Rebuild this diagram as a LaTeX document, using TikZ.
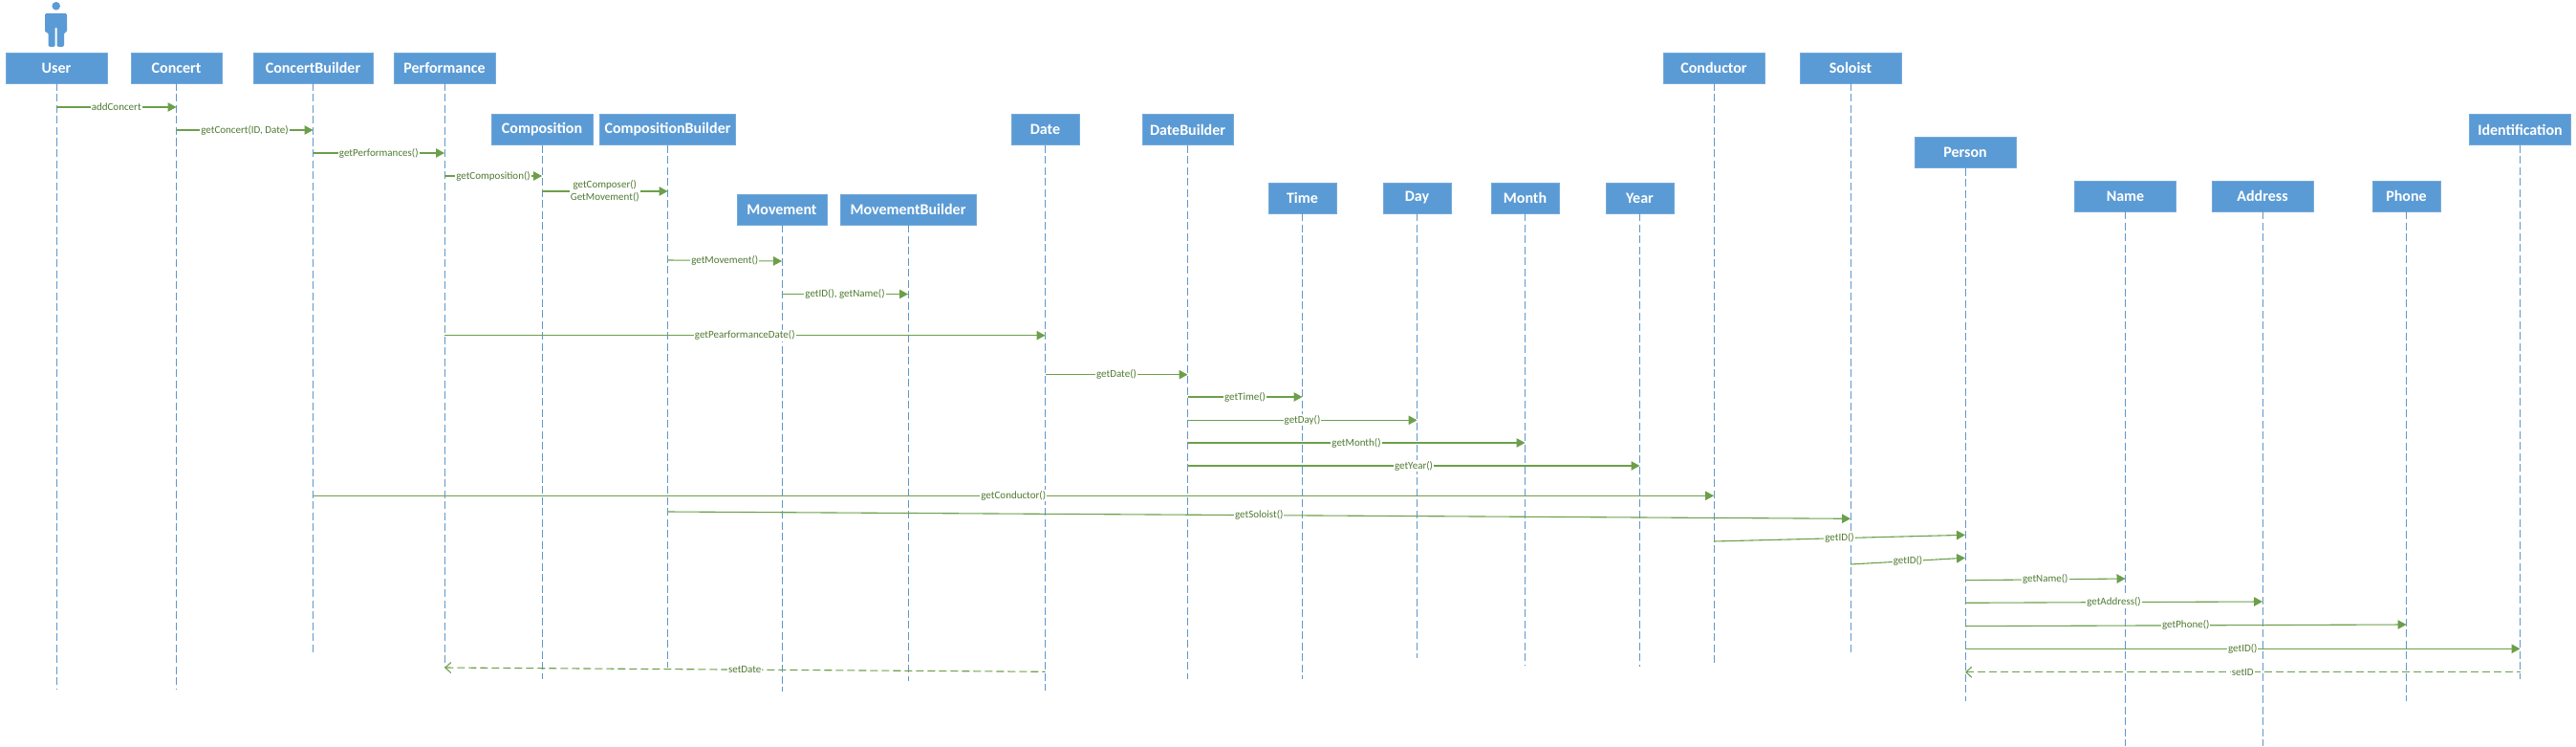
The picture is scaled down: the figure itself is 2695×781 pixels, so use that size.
\documentclass[tikz,border=0pt]{standalone}
\usepackage{fontspec}
\setmainfont{Carlito}
\usepackage{xcolor}
\usetikzlibrary{arrows.meta,positioning}
\definecolor{boxblue}{HTML}{5B9BD5}
\definecolor{msggreen}{HTML}{6C9F4A}
\definecolor{lblgreen}{HTML}{4F7A32}

\begin{document}
\begin{tikzpicture}[x=1pt,y=1pt,>=Latex,
  lifebox/.style={draw=boxblue!85!white, fill=boxblue, text=white, minimum height=32pt, inner sep=0pt, outer sep=0pt,
    font=\fontsize{16}{18}\selectfont\bfseries},
  lifeline/.style={draw=boxblue!85!gray, line width=.9pt, dash pattern=on 8pt off 3.5pt},
  msg/.style={draw=msggreen, line width=1.1pt, -{Triangle[length=9pt,width=9.5pt]}},
  reply/.style={draw=msggreen, line width=1.1pt, dash pattern=on 8pt off 4pt, {Straight Barb[length=6pt,width=11pt]}-},
  lbl/.style={fill=white, text=lblgreen, inner sep=1pt, align=center, font=\fontsize{11}{13}\selectfont}]
  \useasboundingbox (0,0) rectangle (2695,-781);
  % first row
  \node[lifebox, minimum width=106pt](user) at (59,-71){User};
  \node[lifebox, minimum width=95pt, right=25pt of user](concert){Concert};
  \node[lifebox, minimum width=125pt, right=33pt of concert](cbuilder){ConcertBuilder};
  \node[lifebox, minimum width=106pt, right=22pt of cbuilder](perf){Performance};
  \node[lifebox, minimum width=106pt, right=1222pt of perf](conductor){Conductor};
  \node[lifebox, minimum width=106pt, right=37pt of conductor](soloist){Soloist};
  % lower rows
  \node[lifebox, minimum width=106pt](comp) at (567,-135.5){Composition};
  \node[lifebox, minimum width=142pt, right=7.5pt of comp](compbuilder){CompositionBuilder};
  \node[lifebox, minimum width=94pt](move) at (818,-219){Movement};
  \node[lifebox, minimum width=142pt, right=14pt of move](movebuilder){MovementBuilder};
  \node[lifebox, minimum width=71pt](date) at (1093.5,-135.5){Date};
  \node[lifebox, minimum width=95pt, right=66pt of date](datebuilder){DateBuilder};
  \node[lifebox, minimum width=71pt](time) at (1362.5,-207){Time};
  \node[lifebox, minimum width=71pt, right=49pt of time](day){Day};
  \node[lifebox, minimum width=71pt, right=42pt of day](month){Month};
  \node[lifebox, minimum width=71pt, right=49pt of month](year){Year};
  \node[lifebox, minimum width=106pt](person) at (2056,-159.5){Person};
  \node[lifebox, minimum width=106pt](name) at (2223.5,-205){Name};
  \node[lifebox, minimum width=106pt, right=37.5pt of name](address){Address};
  \node[lifebox, minimum width=71pt, right=62pt of address](phone){Phone};
  \node[lifebox, minimum width=106pt](ident) at (2636.5,-135.5){Identification};
  % actor
  \fill[boxblue] (58.7,-6.3) circle (4.3);
  \fill[boxblue, rounded corners=1.5pt] (47,-34) -- (47,-14) -- (70,-14) -- (70,-34) -- (67,-34) -- (67,-49) -- (59.7,-49) -- (59.7,-28)
    -- (57.7,-28) -- (57.7,-49) -- (50.7,-49) -- (50.7,-34) -- cycle;
  % lifelines
  \foreach \who/\bottom in {user/720,concert/720,cbuilder/684,perf/698,comp/710,compbuilder/698,move/723,movebuilder/712,
    date/722,datebuilder/710,time/710,day/688,month/696,year/697,conductor/696,soloist/684,person/733,name/780,address/780,
    phone/733,ident/710}{
    \coordinate (\who-end) at (\who |- 0,-\bottom);
    \draw[lifeline](\who)--(\who-end);
  }
  % calls
  \draw[msg](user |- 0,-112)--node[lbl]{addConcert}(concert |- 0,-112);
  \draw[msg](concert |- 0,-136)--node[lbl]{getConcert(ID, Date)}(cbuilder |- 0,-136);
  \draw[msg](cbuilder |- 0,-160)--node[lbl]{getPerformances()}(perf |- 0,-160);
  \draw[msg](perf |- 0,-184)--node[lbl]{getComposition()}(comp |- 0,-184);
  \draw[msg](comp |- 0,-200)--node[lbl]{getComposer()\\GetMovement()}(compbuilder |- 0,-200);
  \draw[msg](compbuilder |- 0,-272)--node[lbl]{getMovement()}(move |- 0,-273);
  \draw[msg](move |- 0,-307.5)--node[lbl]{getID(), getName()}(movebuilder |- 0,-307.5);
  \draw[msg](perf |- 0,-350.7)--node[lbl]{getPearformanceDate()}(date |- 0,-350.7);
  \draw[msg](date |- 0,-391.7)--node[lbl]{getDate()}(datebuilder |- 0,-391.7);
  \draw[msg](datebuilder |- 0,-415)--node[lbl]{getTime()}(time |- 0,-415);
  \draw[msg](datebuilder |- 0,-439.3)--node[lbl]{getDay()}(day |- 0,-439.3);
  \draw[msg](datebuilder |- 0,-463)--node[lbl]{getMonth()}(month |- 0,-463);
  \draw[msg](datebuilder |- 0,-487)--node[lbl]{getYear()}(year |- 0,-487);
  \draw[msg](cbuilder |- 0,-518.3)--node[lbl]{getConductor()}(conductor |- 0,-518.3);
  \draw[msg](compbuilder |- 0,-535)--node[lbl]{getSoloist()}(soloist |- 0,-542.3);
  \draw[msg](conductor |- 0,-566)--node[lbl]{getID()}(person |- 0,-559.3);
  \draw[msg](soloist |- 0,-590)--node[lbl]{getID()}(person |- 0,-583.3);
  \draw[msg](person |- 0,-606.7)--node[lbl]{getName()}(name |- 0,-605);
  \draw[msg](person |- 0,-630.3)--node[lbl]{getAddress()}(address |- 0,-629);
  \draw[msg](person |- 0,-654.7)--node[lbl]{getPhone()}(phone |- 0,-653);
  \draw[msg](person |- 0,-678.3)--node[lbl]{getID()}(ident |- 0,-678.3);
  % returns
  \draw[reply](person |- 0,-702.7)--node[lbl]{setID}(ident |- 0,-702.7);
  \draw[reply](perf |- 0,-698)--node[lbl]{setDate}(date |- 0,-702.3);
\end{tikzpicture}
\end{document}
